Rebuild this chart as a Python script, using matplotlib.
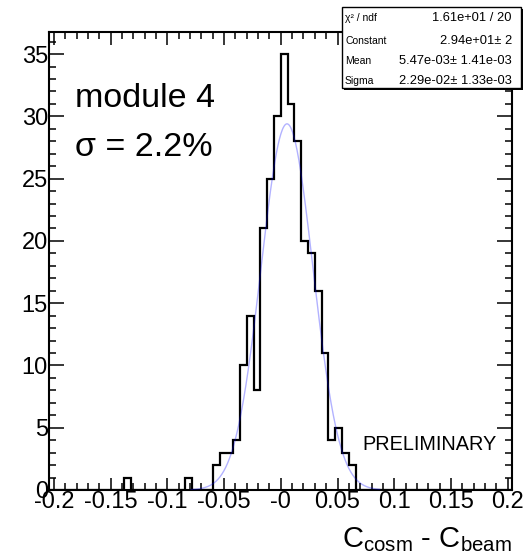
import numpy as np
import matplotlib
matplotlib.use("Agg")
import matplotlib.pyplot as plt
from matplotlib.patches import Rectangle
from matplotlib.ticker import MultipleLocator, FixedLocator

plt.rcParams['font.family'] = ['Liberation Sans', 'DejaVu Sans']
plt.rcParams['mathtext.fontset'] = 'custom'
plt.rcParams['mathtext.rm'] = 'Liberation Sans'
plt.rcParams['mathtext.it'] = 'Liberation Sans:italic'

# ---- data ----
hist_range = (-0.204, 0.204)
n_bins = 68
counts = [0, 0, 0, 0, 0, 0, 0, 0, 0, 0,
          0, 1, 0, 0, 0, 0, 0, 0, 0, 0,
          1, 0, 0, 0, 2, 3, 3, 4, 10, 14,
          8, 21, 25, 30, 35, 31, 28, 20, 19, 16,
          11, 4, 5, 3, 2, 0, 0, 0, 0, 0,
          0, 0, 0, 0, 0, 0, 0, 0, 0, 0,
          0, 0, 0, 0, 0, 0, 0, 0]
fit_constant = 29.4
fit_mean = 5.47e-03
fit_sigma = 2.29e-02
fit_range = (-0.079, 0.087)

x_ticks = [-0.2, -0.15, -0.1, -0.05, 0.0, 0.05, 0.1, 0.15, 0.2]
x_ticklabels = ['-0.2', '-0.15', '-0.1', '-0.05', '-0', '0.05', '0.1', '0.15', '0.2']
y_ticks = [0, 5, 10, 15, 20, 25, 30, 35]
y_ticklabels = ['0', '5', '10', '15', '20', '25', '30', '35']

stats_labels = ['χ² / ndf', 'Constant', 'Mean', 'Sigma']
stats_values = ['1.61e+01 / 20', '2.94e+01± 2', '5.47e-03± 1.41e-03', '2.29e-02± 1.33e-03']

# ---- figure ----
W, H = 524, 560
fig = plt.figure(figsize=(W / 100, H / 100), dpi=100)
ax = fig.add_axes([49.3 / W, 1 - 490 / H, (512.3 - 49.3) / W, (490 - 32.3) / H])

edges = np.linspace(hist_range[0], hist_range[1], n_bins + 1)
ax.stairs(counts, edges, color='black', lw=1.6, zorder=3)

xf = np.linspace(fit_range[0], fit_range[1], 400)
yf = fit_constant * np.exp(-0.5 * ((xf - fit_mean) / fit_sigma) ** 2)
ax.plot(xf, yf, color='blue', alpha=0.3, lw=1.0, zorder=4)

ax.set_xlim(*hist_range)
ax.set_ylim(0, 36.75)

ax.xaxis.set_major_locator(FixedLocator(x_ticks))
ax.set_xticklabels(x_ticklabels)
ax.xaxis.set_minor_locator(MultipleLocator(0.01))
ax.yaxis.set_major_locator(FixedLocator(y_ticks))
ax.set_yticklabels(y_ticklabels)
ax.yaxis.set_minor_locator(MultipleLocator(1))

ax.tick_params(axis='both', which='both', direction='in', top=True, right=True,
               width=1.1, labelsize=17, color='black')
ax.tick_params(axis='x', which='major', length=9, pad=1)
ax.tick_params(axis='x', which='minor', length=5)
ax.tick_params(axis='y', which='major', length=11, pad=1)
ax.tick_params(axis='y', which='minor', length=5)
for s in ax.spines.values():
    s.set_linewidth(1.5)

def fx(px):
    return px / W

def fy(py):
    return 1 - py / H

fig.text(fx(75), fy(107), 'module 4', fontsize=24.5, ha='left', va='baseline')
fig.text(fx(75), fy(156), 'σ = 2.2%', fontsize=24.5, ha='left', va='baseline')
fig.text(fx(362), fy(450), 'PRELIMINARY', fontsize=14.3, ha='left', va='baseline')
fig.text(fx(512), fy(547), r'$\mathregular{C_{cosm}}$ - $\mathregular{C_{beam}}$', fontsize=21,
         ha='right', va='baseline')

# stats box
bx0, by0, bx1, by1 = 342, 7, 521, 88
fig.patches.append(Rectangle((fx(bx0 + 2), fy(by1 + 2)), (bx1 - bx0) / W, (by1 - by0) / H,
                             transform=fig.transFigure, facecolor='black', edgecolor='none',
                             zorder=9))
fig.patches.append(Rectangle((fx(bx0), fy(by1)), (bx1 - bx0) / W, (by1 - by0) / H,
                             transform=fig.transFigure, facecolor='white', edgecolor='black',
                             lw=1.0, zorder=10))
row_y = [18, 41, 61, 81]
for lab, val, yy in zip(stats_labels, stats_values, row_y):
    fig.text(fx(345), fy(yy), lab, fontsize=7.5, ha='left', va='center', zorder=11)
    fig.text(fx(512), fy(yy), val, fontsize=9.3, ha='right', va='center', zorder=11)

fig.savefig('out.png', dpi=100)
